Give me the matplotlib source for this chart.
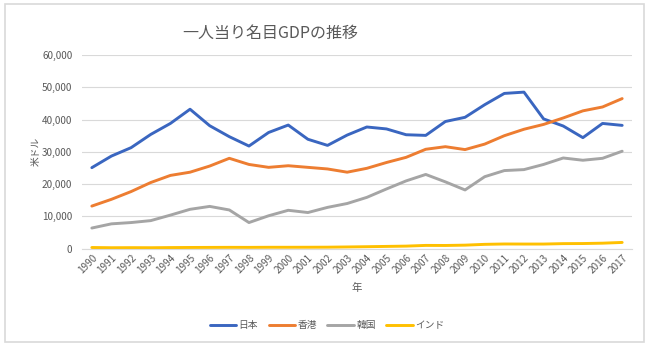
import matplotlib
matplotlib.use('Agg')
import matplotlib.pyplot as plt
from matplotlib.patches import Rectangle
from matplotlib.ticker import FuncFormatter

plt.rcParams['font.family'] = ['Noto Sans CJK JP', 'DejaVu Sans']

# ------------------------------------------------------
# DATA (US dollars per person)
# ------------------------------------------------------
years = [str(y) for y in range(1990, 2018)]

japan = [25100, 28700, 31300, 35400, 38800, 43200, 38100, 34700, 31800, 36000,
         38300, 33900, 32000, 35200, 37700, 37100, 35300, 35100, 39400, 40700,
         44600, 48100, 48500, 40200, 38000, 34400, 38800, 38200]
hongkong = [13200, 15300, 17700, 20500, 22700, 23700, 25600, 28000, 26100, 25200,
            25700, 25200, 24700, 23700, 24900, 26700, 28300, 30800, 31600, 30700,
            32400, 35000, 37000, 38500, 40500, 42700, 43900, 46500]
korea = [6400, 7700, 8100, 8700, 10400, 12200, 13100, 12000, 8100, 10200,
         11900, 11200, 12800, 14000, 15900, 18500, 21000, 23000, 20700, 18200,
         22300, 24200, 24500, 26100, 28100, 27400, 28000, 30200]
india = [370, 300, 320, 300, 350, 380, 400, 420, 410, 440,
         440, 450, 470, 540, 620, 710, 800, 1020, 1000, 1100,
         1350, 1460, 1440, 1440, 1570, 1600, 1710, 1940]

series = [('日本', japan, '#3A66C0'),
          ('香港', hongkong, '#ED7D31'),
          ('韓国', korea, '#A5A5A5'),
          ('インド', india, '#FFC000')]

# ------------------------------------------------------
# PLOT
# ------------------------------------------------------
fig = plt.figure(figsize=(6.5, 3.5), dpi=100)
ax = fig.add_axes([82/650, 1-248.7/350, 550/650, 193.7/350])

x = list(range(len(years)))
for name, vals, col in series:
    ax.plot(x, vals, '-', color=col, linewidth=2.1, label=name, solid_capstyle='round')

ax.set_xlim(-0.5, len(years) - 0.5)
ax.set_ylim(0, 60000)
ax.set_yticks(range(0, 60001, 10000))
ax.yaxis.set_major_formatter(FuncFormatter(lambda v, p: '{:,.0f}'.format(v)))
ax.set_xticks(x)
ax.set_xticklabels(years, rotation=45, ha='right', rotation_mode='anchor')

ax.grid(True, axis='y', color='#D9D9D9', linewidth=0.8)
ax.set_axisbelow(True)
for s in ['top', 'right', 'left']:
    ax.spines[s].set_visible(False)
ax.spines['bottom'].set_color('#D9D9D9')
ax.tick_params(axis='both', length=0, labelsize=7.2, colors='#595959')
ax.tick_params(axis='x', pad=3)
ax.tick_params(axis='y', pad=7)

ax.set_ylabel('米ドル', fontsize=7, color='#595959', labelpad=1)
ax.set_xlabel('年', fontsize=7.5, color='#595959', labelpad=5)

fig.text(270/650, 1-33/350, '一人当り名目GDPの推移', fontsize=11.5, color='#595959',
         ha='center', va='center')

fig.legend(loc='center', bbox_to_anchor=(327/650, 1-325/350), ncol=4, frameon=False,
           fontsize=7, handlelength=2.7, columnspacing=1.1, handletextpad=0.25,
           labelcolor='#595959')

# Outer light border
fig.patches.append(Rectangle((5/650, 8/350), 639/650, 338/350, transform=fig.transFigure,
                             fill=False, edgecolor='#D9D9D9', linewidth=1.2))

fig.savefig('out.png', dpi=100)
